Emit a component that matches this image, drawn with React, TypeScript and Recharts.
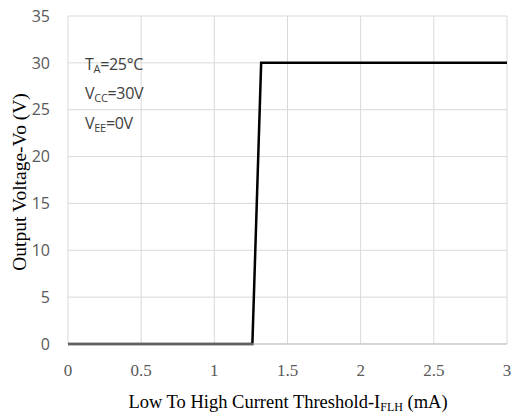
import React from 'react';
import { LineChart, Line, XAxis, YAxis, CartesianGrid } from 'recharts';

const currentMA = [0, 1.26, 1.32, 3];
const outputV = [0, 0, 30, 30];
const xTicks = [0, 0.5, 1, 1.5, 2, 2.5, 3];
const yTicks = [0, 5, 10, 15, 20, 25, 30, 35];

const data = currentMA.map((x, i) => ({ x, v: outputV[i] }));

const sans = '"Open Sans", "Noto Sans", sans-serif';
const serif = '"Liberation Serif", "DejaVu Serif", serif';

const noteStyle: React.CSSProperties = {
    position: 'absolute',
    left: 85,
    fontFamily: sans,
    fontSize: 16,
    color: '#404040',
    lineHeight: '18px',
    whiteSpace: 'nowrap',
    letterSpacing: -0.3,
};
const subStyle: React.CSSProperties = { fontSize: 11, verticalAlign: -3 };

const App: React.FC = () => {
    return (
        <div style={{ position: 'absolute', left: 0, top: 0, width: 515, height: 416, background: '#fff' }}>
            <LineChart width={515} height={416} data={data} margin={{ top: 16, right: 8, bottom: 0, left: 0 }}>
                <CartesianGrid stroke="#d9d9d9" strokeWidth={1} />
                <XAxis
                    dataKey="x"
                    type="number"
                    domain={[0, 3]}
                    ticks={xTicks}
                    height={72}
                    stroke="#bfbfbf"
                    tickLine={false}
                    tickMargin={14}
                    tick={{ fill: '#595959', fontSize: 17, fontFamily: serif }}
                />
                <YAxis
                    type="number"
                    domain={[0, 35]}
                    ticks={yTicks}
                    width={68}
                    axisLine={false}
                    tickLine={false}
                    tickMargin={12}
                    tick={{ fill: '#595959', fontSize: 16, fontFamily: sans }}
                />
                <Line
                    type="linear"
                    dataKey="v"
                    stroke="#000"
                    strokeWidth={2.5}
                    dot={false}
                    isAnimationActive={false}
                />
            </LineChart>
            <div style={{ ...noteStyle, top: 55 }}>T<span style={subStyle}>A</span>=25°C</div>
            <div style={{ ...noteStyle, top: 84 }}>V<span style={subStyle}>CC</span>=30V</div>
            <div style={{ ...noteStyle, top: 114 }}>V<span style={subStyle}>EE</span>=0V</div>
            <div
                style={{
                    position: 'absolute',
                    left: 20,
                    top: 182,
                    transform: 'translate(-50%, -50%) rotate(-90deg)',
                    fontFamily: serif,
                    fontSize: 19.5,
                    color: '#000',
                    whiteSpace: 'nowrap',
                }}
            >
                Output Voltage-Vo (V)
            </div>
            <div
                style={{
                    position: 'absolute',
                    left: 288,
                    top: 403,
                    transform: 'translate(-50%, -50%)',
                    fontFamily: serif,
                    fontSize: 18.5,
                    color: '#000',
                    whiteSpace: 'nowrap',
                }}
            >
                Low To High Current Threshold-I<span style={{ fontSize: 12, verticalAlign: -3 }}>FLH</span> (mA)
            </div>
        </div>
    );
};

export default App;
